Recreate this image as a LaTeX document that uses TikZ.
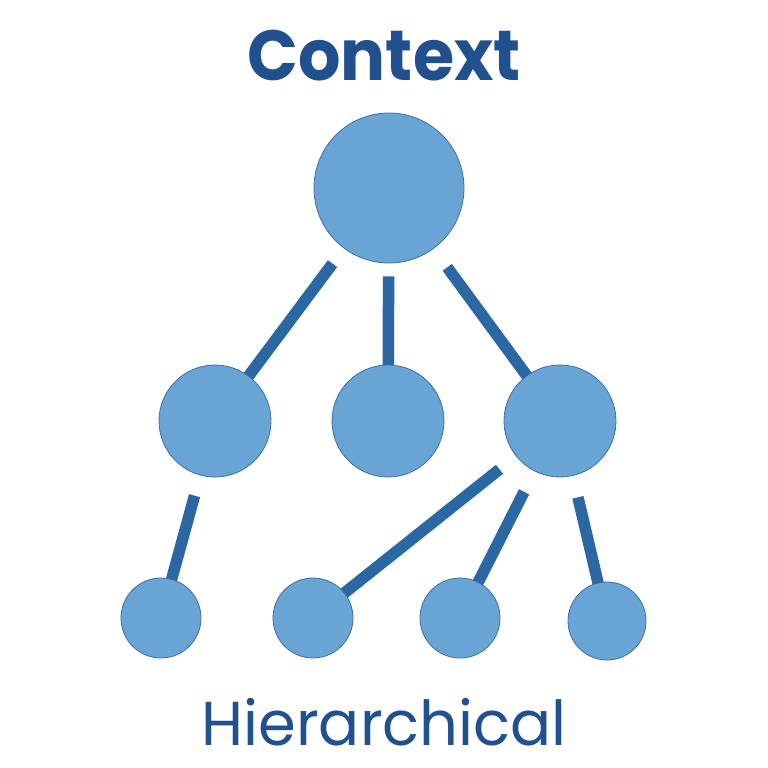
\documentclass[tikz,border=0pt]{standalone}
\usepackage{fontspec}
\setmainfont{Poppins}
\usetikzlibrary{backgrounds}
\definecolor{linkblue}{HTML}{2A67A3}
\definecolor{nodefill}{HTML}{68A5D5}
\definecolor{nodeedge}{HTML}{3D6DA6}
\definecolor{textblue}{HTML}{21508E}
\begin{document}
\begin{tikzpicture}[x=1pt,y=-1pt,
  vertex/.style={circle,fill=nodefill,draw=nodeedge,line width=0.8pt,inner sep=0pt,minimum size=#1},
  link/.style={draw=linkblue,line width=11.5pt},
  title/.style={text=textblue,anchor=base,inner sep=0pt}]
\useasboundingbox (0,0) rectangle (768,768);
\node[title,font=\fontsize{71}{78}\selectfont\bfseries] (ttl) at (384,81) {\scalebox{0.94}[1]{Context}};
\node[title,font=\fontsize{62}{68}\selectfont] (cap) at (384,745) {\scalebox{0.98}[1]{Hierarchical}};
\node[vertex=150pt] (top) at (389,188) {};
\node[vertex=112pt] (ml) at (215,421) {};
\node[vertex=112pt] (mm) at (388,421) {};
\node[vertex=112pt] (mr) at (560,421) {};
\node[vertex=80pt] (b1) at (161,618) {};
\node[vertex=80pt] (b2) at (313,618) {};
\node[vertex=80pt] (b3) at (460,618) {};
\node[vertex=78pt] (b4) at (607,621) {};
\begin{scope}[on background layer]
\draw[link,shorten <=19pt] (top) -- (ml.center);
\draw[link,shorten <=13pt] (top) -- (mm.center);
\draw[link,shorten <=23pt] (top) -- (mr.center);
\draw[link,shorten <=21pt] (ml) -- (b1.center);
\draw[link,shorten <=21pt] (mr) -- (b2.center);
\draw[link,shorten <=23pt] (mr) -- (b3.center);
\draw[link,shorten <=22pt] (mr) -- (b4.center);
\end{scope}
\end{tikzpicture}
\end{document}
